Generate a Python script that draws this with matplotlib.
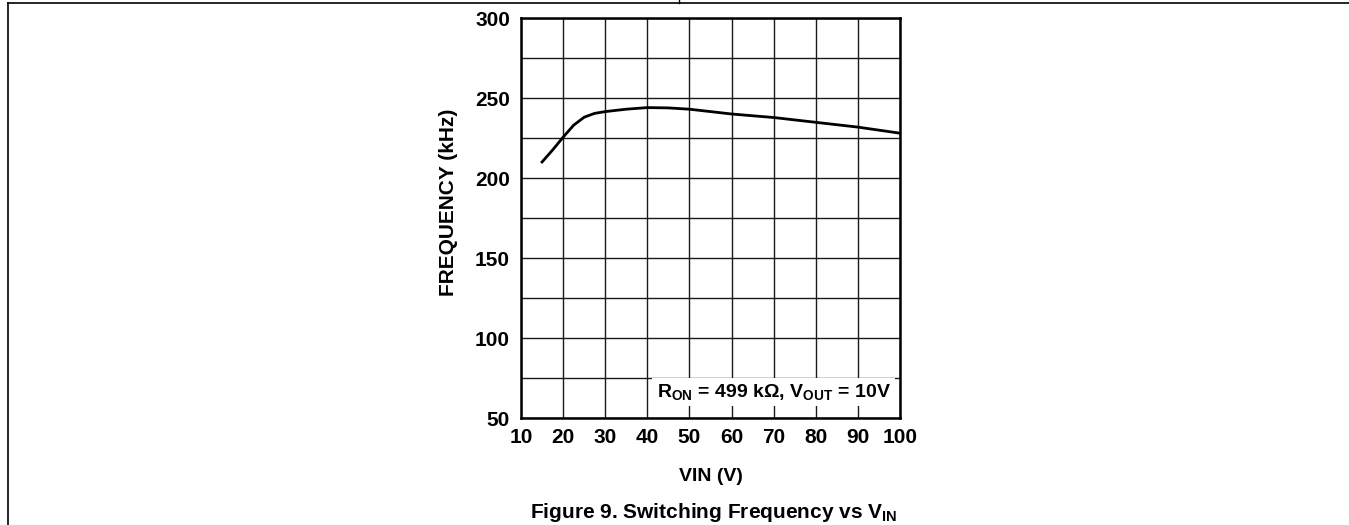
import matplotlib

matplotlib.use("Agg")

import matplotlib.pyplot as plt
from matplotlib.lines import Line2D

plt.rcParams["font.family"] = ["Liberation Sans", "DejaVu Sans"]
plt.rcParams["mathtext.fontset"] = "custom"
plt.rcParams["mathtext.rm"] = "Liberation Sans:bold"
plt.rcParams["mathtext.bf"] = "Liberation Sans:bold"
plt.rcParams["mathtext.it"] = "Liberation Sans:bold"

# --- data ---
vin = [15, 17.5, 20, 22.5, 25, 27.5, 30, 35, 40, 45, 50, 60, 70, 80, 90, 100]
freq_khz = [210, 217.5, 225.5, 233, 238, 240.4, 241.5, 243, 244, 243.8, 243,
            240, 237.8, 234.8, 231.8, 228]
x_ticks = [10, 20, 30, 40, 50, 60, 70, 80, 90, 100]
y_ticks = [50, 100, 150, 200, 250, 300]
y_minor = [75, 125, 175, 225, 275]

W, H = 1349, 525
fig = plt.figure(figsize=(W / 100, H / 100), dpi=100)
ax = fig.add_axes([521 / W, 1 - 418 / H, 379 / W, 400 / H])

ax.plot(vin, freq_khz, color="black", linewidth=2.0, zorder=3)

ax.set_xlim(10, 100)
ax.set_ylim(50, 300)
ax.set_xticks(x_ticks)
ax.set_yticks(y_ticks)
ax.set_yticks(y_minor, minor=True)
ax.grid(True, which="both", color="#1a1a1a", linewidth=1.0)
ax.tick_params(which="both", length=0)
ax.tick_params(axis="x", pad=7, labelsize=15)
ax.tick_params(axis="y", pad=8, labelsize=15)
for lbl in ax.get_xticklabels() + ax.get_yticklabels():
    lbl.set_fontweight("bold")
for spine in ax.spines.values():
    spine.set_linewidth(1.8)
    spine.set_zorder(4)

ax.set_xlabel("VIN (V)", fontsize=14, fontweight="bold", labelpad=15)
ax.set_ylabel("FREQUENCY (kHz)", fontsize=15, fontweight="bold")
ax.yaxis.set_label_coords(-0.165, 0.54)

ax.text(0.975, 0.065, r"$\mathrm{R_{ON}}$ = 499 kΩ, $\mathrm{V_{OUT}}$ = 10V",
        transform=ax.transAxes, ha="right", va="center", fontsize=14,
        fontweight="bold", zorder=5,
        bbox=dict(facecolor="white", edgecolor="none", pad=3))

fig.text(714 / W, 1 - 512 / H, r"Figure 9. Switching Frequency vs $\mathrm{V_{IN}}$",
         ha="center", va="center", fontsize=15, fontweight="bold")

# page frame lines
fig.add_artist(Line2D([8 / W, 1], [1 - 2.5 / H, 1 - 2.5 / H], color="black", linewidth=1.2))
fig.add_artist(Line2D([8 / W, 8 / W], [0, 1 - 2.5 / H], color="black", linewidth=1.2))
fig.add_artist(Line2D([679 / W, 679 / W], [1 - 2.5 / H, 1], color="black", linewidth=1.0))

fig.savefig("out.png", dpi=100)
